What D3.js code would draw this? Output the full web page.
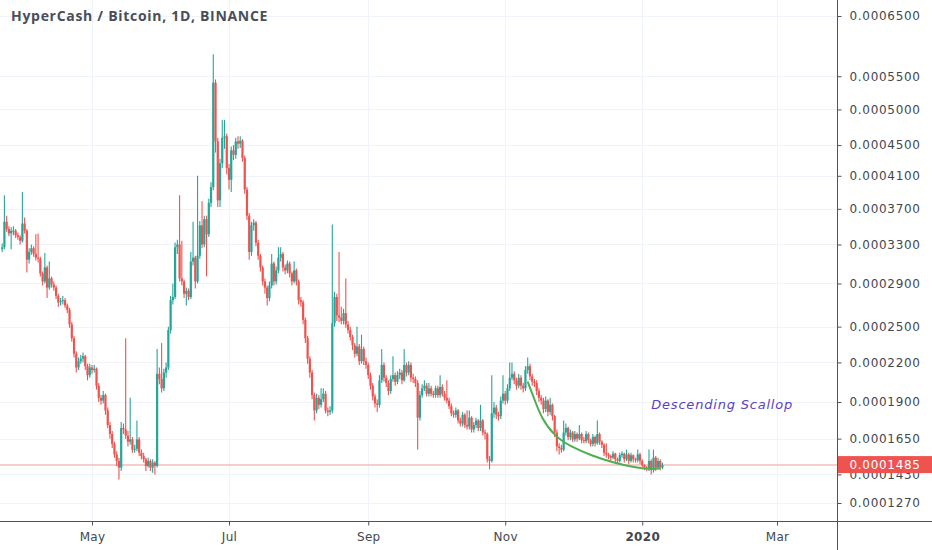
<!DOCTYPE html>
<html>
<head>
<meta charset="utf-8">
<script src="https://cdn.jsdelivr.net/npm/d3@7/dist/d3.min.js"></script>
<style>
  html, body { margin: 0; padding: 0; background: #ffffff; }
  svg { display: block; }
</style>
</head>
<body>
<svg id="chart" width="932" height="550"></svg>
<script>
// price values are in units of 0.0001 BTC, daily candles from 2019-03-22
var startDay = "2019-03-22";
var firstOpen = 3.25;

var closes = [
    3.27,3.55,3.47,3.42,3.45,3.45,3.40,3.38,3.34,3.53,
    3.45,3.14,3.22,3.26,3.20,3.16,3.15,3.00,2.92,3.06,
    2.86,2.95,2.89,2.86,2.78,2.72,2.73,2.74,2.69,2.65,
    2.52,2.40,2.27,2.16,2.21,2.23,2.25,2.17,2.10,2.16,
    2.14,2.15,2.02,1.93,1.91,1.95,1.84,1.74,1.68,1.615,
    1.55,1.51,1.47,1.72,1.71,1.67,1.63,1.645,1.58,1.585,
    1.645,1.56,1.54,1.52,1.48,1.51,1.47,1.50,1.48,2.11,
    2.07,2.00,2.12,2.16,2.47,2.74,2.77,3.27,3.30,2.95,
    2.92,2.80,2.83,2.77,3.12,3.16,2.92,3.18,3.51,3.30,
    3.58,3.41,3.77,3.96,5.40,4.55,3.80,4.26,4.60,4.62,
    4.20,4.05,4.43,4.37,4.55,4.52,4.56,4.33,3.93,3.62,
    3.22,3.51,3.54,3.32,3.18,3.06,2.92,2.86,2.76,2.88,
    3.10,2.92,3.03,3.16,3.20,3.06,3.03,3.10,3.00,2.92,
    3.03,2.92,2.74,2.72,2.56,2.40,2.23,2.12,1.95,1.84,
    1.93,1.88,1.92,1.96,1.84,1.83,1.84,2.53,2.77,2.60,
    2.58,2.55,2.62,2.52,2.47,2.41,2.34,2.27,2.33,2.21,
    2.31,2.21,2.18,2.10,2.02,1.94,1.89,1.88,2.06,2.18,
    2.08,2.04,1.98,2.07,2.10,2.05,2.10,2.12,2.06,2.18,
    2.12,2.18,2.08,2.07,2.04,1.79,1.95,2.00,2.02,1.96,
    2.00,1.96,1.95,2.00,1.95,2.01,1.96,1.93,1.91,1.87,
    1.82,1.81,1.84,1.77,1.75,1.81,1.74,1.73,1.79,1.71,
    1.74,1.77,1.72,1.77,1.69,1.68,1.52,1.51,1.82,1.86,
    1.81,1.80,1.91,1.96,1.91,2.00,2.08,2.11,2.06,2.02,
    2.08,2.02,2.00,2.14,2.17,2.09,2.05,2.04,1.98,1.93,
    1.91,1.85,1.91,1.83,1.88,1.80,1.69,1.60,1.59,1.58,
    1.69,1.72,1.66,1.69,1.645,1.68,1.65,1.68,1.64,1.635,
    1.68,1.64,1.615,1.66,1.62,1.68,1.63,1.61,1.56,1.55,
    1.54,1.53,1.555,1.52,1.51,1.545,1.555,1.52,1.55,1.51,
    1.545,1.52,1.515,1.55,1.51,1.485,1.47,1.465,1.51,1.455,
    1.53,1.47,1.51,1.47,1.485
];

var highs = [
    3.31,3.86,3.62,3.50,3.49,3.50,3.47,3.43,3.40,3.90,
    3.60,3.47,3.26,3.30,3.28,3.41,3.42,3.17,3.02,3.21,
    3.08,3.12,2.97,2.92,2.88,2.80,2.76,2.78,2.76,2.71,
    2.67,2.54,2.42,2.29,2.24,2.26,2.28,2.26,2.19,2.19,
    2.18,2.18,2.16,2.04,1.95,1.98,1.96,1.86,1.76,1.70,
    1.63,1.57,1.53,1.76,1.75,2.40,1.70,1.93,1.66,1.61,
    1.77,1.66,1.58,1.56,1.53,1.53,1.52,1.52,1.51,2.31,
    2.16,2.36,2.15,2.20,2.50,2.78,2.90,3.32,3.35,3.86,
    3.34,2.94,2.86,2.85,3.22,3.55,3.18,4.10,3.56,3.79,
    3.62,3.62,3.82,4.02,5.85,5.45,4.60,4.32,4.85,4.85,
    4.66,4.25,4.48,4.50,4.60,4.62,4.62,4.58,4.36,3.96,
    3.65,3.55,3.58,3.56,3.35,3.20,3.08,2.95,2.88,2.92,
    3.20,3.12,3.07,3.27,3.27,3.22,3.09,3.13,3.12,3.02,
    3.12,3.05,2.94,2.77,2.74,2.58,2.42,2.25,2.14,1.97,
    1.96,1.95,2.00,2.00,1.98,1.86,1.87,3.52,2.82,2.80,
    3.22,2.68,2.66,2.95,2.55,2.50,2.43,2.36,2.50,2.35,
    2.43,2.33,2.24,2.20,2.12,2.04,1.96,1.92,2.10,2.31,
    2.20,2.10,2.06,2.10,2.25,2.12,2.13,2.15,2.14,2.31,
    2.20,2.21,2.20,2.11,2.09,2.06,1.98,2.03,2.06,2.04,
    2.04,2.02,1.98,2.02,2.02,2.10,2.03,1.98,2.06,1.93,
    1.89,1.84,1.86,1.85,1.79,1.83,1.82,1.84,1.84,1.80,
    1.76,1.79,1.78,1.88,1.78,1.71,1.69,1.54,2.10,1.90,
    1.88,1.83,1.94,2.10,1.98,2.03,2.20,2.20,2.13,2.08,
    2.11,2.10,2.04,2.17,2.24,2.19,2.11,2.07,2.06,2.00,
    1.95,1.93,1.94,1.92,1.93,1.89,1.81,1.71,1.62,1.61,
    1.77,1.75,1.73,1.71,1.70,1.70,1.69,1.74,1.69,1.66,
    1.70,1.69,1.65,1.68,1.67,1.77,1.69,1.64,1.62,1.62,
    1.56,1.55,1.57,1.56,1.53,1.56,1.57,1.56,1.58,1.56,
    1.56,1.55,1.53,1.58,1.56,1.52,1.49,1.48,1.58,1.52,
    1.58,1.54,1.53,1.52,1.50
];

var lows = [
    3.22,3.25,3.44,3.39,3.25,3.40,3.37,3.35,3.30,3.32,
    3.42,3.01,3.10,3.19,3.17,3.13,3.11,2.97,2.88,2.90,
    2.76,2.84,2.86,2.83,2.75,2.68,2.69,2.70,2.67,2.62,
    2.49,2.37,2.24,2.12,2.14,2.19,2.20,2.14,2.06,2.08,
    2.11,2.12,1.99,1.90,1.88,1.89,1.81,1.72,1.65,1.59,
    1.53,1.48,1.40,1.45,1.68,1.65,1.60,1.61,1.56,1.56,
    1.57,1.54,1.52,1.50,1.45,1.47,1.45,1.44,1.43,1.47,
    2.03,1.97,1.98,2.08,2.14,2.44,2.70,2.75,3.20,2.92,
    2.88,2.76,2.69,2.74,2.75,3.08,2.85,2.90,3.15,3.26,
    3.27,2.97,3.38,3.72,3.92,4.40,3.72,3.72,4.20,4.45,
    4.12,3.93,3.90,4.30,4.32,4.45,4.46,4.28,3.88,3.57,
    3.14,3.18,3.45,3.28,3.14,3.02,2.88,2.80,2.69,2.73,
    2.85,2.88,2.89,3.00,3.12,3.02,2.99,3.00,2.96,2.88,
    2.90,2.88,2.70,2.68,2.52,2.36,2.19,2.08,1.92,1.77,
    1.82,1.85,1.86,1.90,1.82,1.80,1.81,1.82,2.50,2.55,
    2.54,2.52,2.52,2.49,2.44,2.38,2.30,2.24,2.25,2.18,
    2.19,2.18,2.15,2.07,1.99,1.91,1.86,1.83,1.86,2.04,
    2.05,2.01,1.95,1.96,2.05,2.02,2.03,2.07,2.03,2.05,
    2.09,2.10,2.05,2.04,2.01,1.58,1.77,1.93,1.98,1.94,
    1.94,1.94,1.93,1.93,1.93,1.93,1.94,1.91,1.89,1.85,
    1.80,1.79,1.79,1.75,1.73,1.73,1.72,1.71,1.71,1.69,
    1.69,1.72,1.70,1.70,1.67,1.645,1.50,1.46,1.50,1.79,
    1.78,1.77,1.78,1.89,1.88,1.89,1.98,2.06,2.03,1.99,
    2.00,1.99,1.97,1.98,2.11,2.06,2.02,2.01,1.95,1.90,
    1.88,1.82,1.83,1.80,1.81,1.77,1.66,1.57,1.55,1.56,
    1.57,1.67,1.64,1.64,1.63,1.63,1.63,1.64,1.62,1.62,
    1.62,1.62,1.60,1.60,1.60,1.61,1.61,1.59,1.54,1.53,
    1.52,1.51,1.52,1.50,1.49,1.50,1.53,1.50,1.51,1.49,
    1.50,1.50,1.50,1.50,1.49,1.47,1.455,1.45,1.45,1.43,
    1.44,1.45,1.46,1.455,1.46
];

var lastPrice = 1.485;

// right price scale labels
var priceTicks = [6.5, 5.5, 5.0, 4.5, 4.1, 3.7, 3.3, 2.9, 2.5, 2.2, 1.9, 1.65, 1.43, 1.27];

// bottom time scale labels
var timeTickDates = ["2019-05-01", "2019-07-01", "2019-09-01", "2019-11-01", "2020-01-01", "2020-03-01"];
var timeTickLabels = ["May", "Jul", "Sep", "Nov", "2020", "Mar"];

// drawn curve "Descending Scallop"
var scallopDates = ["2019-11-11", "2019-11-14", "2019-11-17", "2019-11-23", "2019-11-30",
    "2019-12-09", "2019-12-19", "2019-12-29", "2020-01-04", "2020-01-09"];
var scallopPrices = [2.05, 1.92, 1.79, 1.665, 1.60, 1.545, 1.50, 1.47, 1.46, 1.465];
var noteText = "Descending Scallop";
var noteDate = "2020-01-05";
var notePrice = 1.85;

var UNIT = 0.0001;
var W = 932, H = 550;
var plotRight = 837, plotBottom = 521;
var UP = "#26a69a", DOWN = "#ef5350";
var AXIS_FONT = "'DejaVu Sans', sans-serif";
var parseDay = d3.utcParse("%Y-%m-%d");

//build candles
var candles = closes.map(function (c, i) {
    return {
        date: d3.utcDay.offset(parseDay(startDay), i),
        open: i == 0 ? firstOpen : closes[i - 1],
        close: c,
        high: highs[i],
        low: lows[i]
    };
});

var x = d3.scaleUtc()
    .domain([parseDay("2019-05-01"), parseDay("2020-03-01")])
    .range([92, 777]);

// the price scale in the picture is squeezed at the bottom, a power scale fits it
var y = d3.scalePow().exponent(0.27)
    .domain([1.27, 6.5])
    .range([503, 16]);

var svg = d3.select("#chart");

svg.append("defs").append("clipPath")
    .attr("id", "plotClip")
    .append("rect")
    .attr("x", 0).attr("y", 0)
    .attr("width", plotRight).attr("height", plotBottom);

//grid
var grid = svg.append("g").attr("clip-path", "url(#plotClip)");
grid.selectAll("line.hgrid")
    .data(priceTicks)
    .enter().append("line")
    .classed("hgrid", true)
    .attr("x1", 0).attr("x2", plotRight)
    .attr("y1", function (d) { return Math.round(y(d)) + 0.5; })
    .attr("y2", function (d) { return Math.round(y(d)) + 0.5; })
    .attr("stroke", "#f0f3fa");
grid.selectAll("line.vgrid")
    .data(timeTickDates)
    .enter().append("line")
    .classed("vgrid", true)
    .attr("x1", function (d) { return Math.round(x(parseDay(d))) + 0.5; })
    .attr("x2", function (d) { return Math.round(x(parseDay(d))) + 0.5; })
    .attr("y1", 0).attr("y2", plotBottom)
    .attr("stroke", "#f0f3fa");

//title
svg.append("text")
    .attr("x", 11)
    .attr("y", 21)
    .attr("font-family", "'Open Sans', sans-serif")
    .attr("font-size", 14)
    .attr("font-weight", 700)
    .attr("letter-spacing", 0.7)
    .attr("fill", "#4a4e58")
    .text("HyperCash / Bitcoin, 1D, BINANCE");

//last price line
svg.append("line")
    .attr("x1", 0).attr("x2", plotRight)
    .attr("y1", y(lastPrice))
    .attr("y2", y(lastPrice))
    .attr("stroke", "#f5bdbb")
    .attr("stroke-width", 1.5);

//candles
var plot = svg.append("g").attr("clip-path", "url(#plotClip)");
var candleGroup = plot.selectAll("g.candle")
    .data(candles)
    .enter().append("g")
    .classed("candle", true);

candleGroup.append("line")
    .attr("x1", function (d) { return x(d.date); })
    .attr("x2", function (d) { return x(d.date); })
    .attr("y1", function (d) { return y(d.high); })
    .attr("y2", function (d) { return y(d.low); })
    .attr("stroke", function (d) { return d.close >= d.open ? UP : DOWN; })
    .attr("stroke-width", 1.1);

candleGroup.append("rect")
    .attr("x", function (d) { return x(d.date) - 1.1; })
    .attr("width", 2.2)
    .attr("y", function (d) { return y(Math.max(d.open, d.close)); })
    .attr("height", function (d) {
        return Math.max(1, y(Math.min(d.open, d.close)) - y(Math.max(d.open, d.close)));
    })
    .attr("fill", function (d) { return d.close >= d.open ? UP : DOWN; });

//scallop curve
var scallop = scallopDates.map(function (d, i) {
    return { date: parseDay(d), price: scallopPrices[i] };
});
plot.append("path")
    .datum(scallop)
    .attr("d", d3.line()
        .x(function (d) { return x(d.date); })
        .y(function (d) { return y(d.price); })
        .curve(d3.curveBasis))
    .attr("fill", "none")
    .attr("stroke", "#4caf50")
    .attr("stroke-width", 2);

plot.append("text")
    .attr("x", x(parseDay(noteDate)))
    .attr("y", y(notePrice))
    .attr("font-family", AXIS_FONT)
    .attr("font-size", 13)
    .attr("font-style", "italic")
    .attr("letter-spacing", 0.8)
    .attr("fill", "#5b3fc4")
    .text(noteText);

//right axis
var yAxis = d3.axisRight(y)
    .tickValues(priceTicks)
    .tickSize(4)
    .tickPadding(8)
    .tickFormat(function (d) { return (d * UNIT).toFixed(7); });

var yAxisG = svg.append("g")
    .attr("transform", "translate(" + (plotRight + 0.5) + ",0)")
    .call(yAxis);
yAxisG.select(".domain").remove();
yAxisG.selectAll(".tick line").attr("stroke", "#50535e");
yAxisG.selectAll(".tick text")
    .attr("font-family", AXIS_FONT)
    .attr("font-size", 12)
    .attr("letter-spacing", 0.7)
    .attr("fill", "#43474f");

//last price tag, it covers the 0.0001430 label as in the picture
var tag = svg.append("g");
tag.append("rect")
    .attr("x", plotRight + 1)
    .attr("y", y(lastPrice) - 9)
    .attr("width", W - plotRight - 1)
    .attr("height", 17)
    .attr("fill", DOWN);
tag.append("text")
    .attr("x", plotRight + 12.5)
    .attr("y", y(lastPrice))
    .attr("dy", ".35em")
    .attr("font-family", AXIS_FONT)
    .attr("font-size", 12)
    .attr("letter-spacing", 0.7)
    .attr("fill", "#ffffff")
    .text((lastPrice * UNIT).toFixed(7));

//bottom axis
var xAxis = d3.axisBottom(x)
    .tickValues(timeTickDates.map(parseDay))
    .tickSize(4)
    .tickPadding(7)
    .tickFormat(function (d, i) { return timeTickLabels[i]; });

var xAxisG = svg.append("g")
    .attr("transform", "translate(0," + (plotBottom + 0.5) + ")")
    .call(xAxis);
xAxisG.select(".domain").remove();
xAxisG.selectAll(".tick line").attr("stroke", "#50535e");
xAxisG.selectAll(".tick text")
    .attr("font-family", AXIS_FONT)
    .attr("font-size", 12)
    .attr("letter-spacing", 0.3)
    .attr("fill", "#43474f")
    .attr("font-weight", function (d, i) { return timeTickLabels[i] == "2020" ? 700 : 400; });

//axis border lines
svg.append("line")
    .attr("x1", 0).attr("x2", W)
    .attr("y1", plotBottom + 0.5).attr("y2", plotBottom + 0.5)
    .attr("stroke", "#50535e");
svg.append("line")
    .attr("x1", plotRight + 0.5).attr("x2", plotRight + 0.5)
    .attr("y1", 0).attr("y2", H)
    .attr("stroke", "#50535e");
</script>
</body>
</html>
